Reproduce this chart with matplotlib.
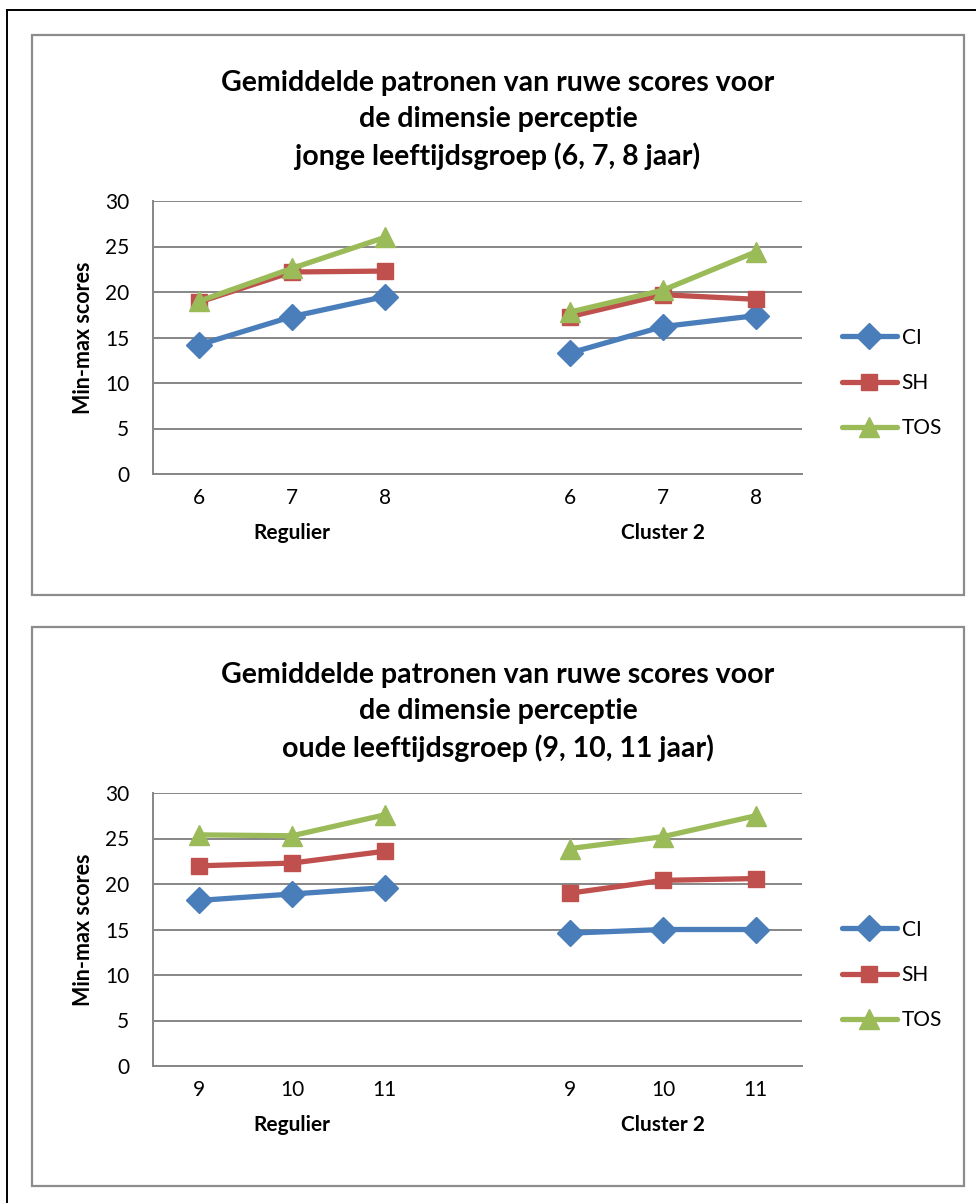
import numpy as np
import matplotlib.pyplot as plt
from matplotlib.patches import Rectangle
from matplotlib.lines import Line2D

plt.rcParams["font.family"] = ["Lato", "DejaVu Sans"]

W, H = 976, 1203

series_names = ["CI", "SH", "TOS"]
series_colors = ["#4a7ebb", "#c0504d", "#9bbb59"]
series_markers = ["D", "s", "^"]
group_names = ["Regulier", "Cluster 2"]

ages_young = ["6", "7", "8"]
young_regulier = {"CI": [14.2, 17.3, 19.5], "SH": [18.9, 22.2, 22.3], "TOS": [19.0, 22.6, 26.0]}
young_cluster = {"CI": [13.3, 16.2, 17.4], "SH": [17.3, 19.7, 19.2], "TOS": [17.8, 20.2, 24.4]}

ages_old = ["9", "10", "11"]
old_regulier = {"CI": [18.2, 18.9, 19.6], "SH": [22.0, 22.3, 23.6], "TOS": [25.4, 25.3, 27.6]}
old_cluster = {"CI": [14.6, 15.0, 15.0], "SH": [19.0, 20.4, 20.6], "TOS": [23.9, 25.2, 27.5]}

titles = [
    "Gemiddelde patronen van ruwe scores voor\nde dimensie perceptie\njonge leeftijdsgroep (6, 7, 8 jaar)",
    "Gemiddelde patronen van ruwe scores voor\nde dimensie perceptie\noude leeftijdsgroep (9, 10, 11 jaar)",
]

FS = 15

fig = plt.figure(figsize=(W / 100, H / 100), dpi=100)


def fx(px):
    return px / W


def fy(py):
    return 1 - py / H


# outer page frame (only left and top edges fall inside the image)
fig.add_artist(Line2D([fx(7), fx(7)], [fy(10), 0], color="black", lw=1.4))
fig.add_artist(Line2D([fx(7), 1], [fy(10), fy(10)], color="black", lw=1.4))


def chart(box_top, box_bottom, ages, reg, clu, title):
    fig.add_artist(Rectangle((fx(32), fy(box_bottom)), fx(964) - fx(32), fy(box_top) - fy(box_bottom),
                             transform=fig.transFigure, fill=False, ec="#8c8c8c", lw=1.6))
    fig.text(fx(498), fy(box_top + 85), title, ha="center", va="center", fontsize=20.5,
             fontweight="bold", linespacing=1.45)

    plot_top = box_top + 166
    plot_bot = plot_top + 273
    ax = fig.add_axes([fx(153), fy(plot_bot), fx(802) - fx(153), fy(plot_top) - fy(plot_bot)])

    labels = ages + [""] + ages
    x = np.arange(len(labels))
    for name, col, mk in zip(series_names, series_colors, series_markers):
        vals = np.array(reg[name] + [np.nan] + clu[name], dtype=float)
        ms = 14 if mk == "^" else (13 if mk == "D" else 12)
        ax.plot(x, vals, color=col, lw=3.8, marker=mk, ms=ms, mec=col, mfc=col,
                label=name, solid_capstyle="round", clip_on=False)

    ax.set_xlim(-0.5, len(labels) - 0.5)
    ax.set_ylim(0, 30)
    ax.set_yticks(range(0, 31, 5))
    ax.set_xticks(x)
    ax.set_xticklabels(labels)
    ax.tick_params(axis="both", length=0, labelsize=FS)
    ax.tick_params(axis="y", pad=17)
    ax.tick_params(axis="x", pad=10)
    ax.grid(axis="y", color="#868686", lw=1.4)
    ax.set_axisbelow(True)
    for s in ["top", "right"]:
        ax.spines[s].set_visible(False)
    for s in ["left", "bottom"]:
        ax.spines[s].set_color("#868686")
        ax.spines[s].set_linewidth(1.4)
    ax.set_ylabel("Min-max scores", fontsize=15.5, fontweight="bold", labelpad=8)

    for gx, gname in zip([1, 5], group_names):
        ax.text(gx, -0.215, gname, transform=ax.get_xaxis_transform(), ha="center", va="center",
                fontsize=FS, fontweight="bold")

    ax.legend(loc="center left", bbox_to_anchor=(fx(834), fy(plot_top + 182)),
              bbox_transform=fig.transFigure, frameon=False, fontsize=FS,
              handlelength=2.6, handletextpad=0.25, labelspacing=1.22, borderaxespad=0)
    return ax


chart(35, 595, ages_young, young_regulier, young_cluster, titles[0])
chart(627, 1186, ages_old, old_regulier, old_cluster, titles[1])

fig.savefig("out.png", dpi=100)
